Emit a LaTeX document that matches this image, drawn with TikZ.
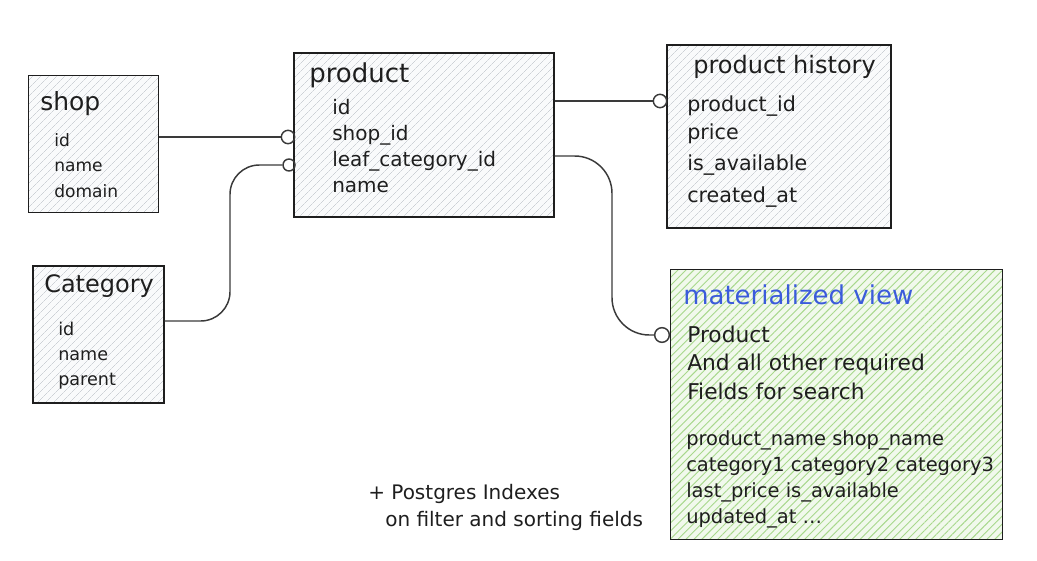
\documentclass[tikz,border=0pt]{standalone}
\usepackage{fontspec}
\setmainfont{DejaVu Sans}
\usetikzlibrary{
  calc,
  positioning,
  patterns.meta
}
\definecolor{ink}{HTML}{1E1E1E}
\definecolor{wire}{HTML}{3A3A3A}
\definecolor{paper}{HTML}{F9FAFB}
\definecolor{hatch}{HTML}{CDD1D6}
\definecolor{mvfill}{HTML}{F1F9EC}
\definecolor{mvhatch}{HTML}{A8D88C}
\definecolor{mvblue}{HTML}{3B5BDB}
\newcommand{\fsize}[1]{\fontsize{#1}{#1}\selectfont}
\tikzset{%
  entity/.style={draw=ink, line width=1.15pt, inner sep=0pt, anchor=north west,
    preaction={fill=paper},
    pattern={Lines[angle=45, distance=4pt, line width=0.45pt]}, pattern color=hatch},
  mview/.style={draw=ink, line width=1.15pt, inner sep=0pt, anchor=north west,
    preaction={fill=mvfill},
    pattern={Lines[angle=45, distance=4.2pt, line width=0.7pt]}, pattern color=mvhatch},
  heading/.style={anchor=base west, inner sep=0pt, text=ink},
  field/.style={anchor=base west, inner sep=0pt, text=ink},
  link/.style={draw=wire, line width=1.1pt},
  ring/.style={circle, draw=wire, line width=1.1pt, minimum size=10pt, inner sep=0pt}
}

\begin{document}
\begin{tikzpicture}[x=0.75pt, y=-0.75pt]
  \useasboundingbox (0,0) rectangle (1037,560);

  % tables
  \node[entity, minimum width=97.5pt, minimum height=102.75pt] (shop) at (28,75) {};
  \node[entity, minimum width=195pt, minimum height=123pt] (product) at (293,52) {};
  \node[entity, minimum width=168pt, minimum height=137.25pt] (history) at (666,44) {};
  \node[entity, minimum width=98.25pt, minimum height=102.75pt] (category) at (32,265) {};
  \node[mview, minimum width=249pt, minimum height=202.5pt] (mv) at (670,269) {};

  % shop
  \node[heading, font=\fsize{18.75}] (shop-title) at (40,110) {shop};
  \foreach \f [count=\i from 0] in {id,name,domain}
    \node[field, font=\fsize{12.8}] (shop-\i) at (54,{146+25.5*\i}) {\f};

  % product
  \node[heading, font=\fsize{19.5}] (product-title) at (309,83) {product};
  \foreach \f [count=\i from 0] in {id,shop\_id,leaf\_category\_id,name}
    \node[field, font=\fsize{15}] (product-\i) at (332,{114+26.3*\i}) {\f};

  % product history
  \node[heading, font=\fsize{18}] (history-title) at (693,74) {product history};
  \foreach \f/\y [count=\i from 0] in {product\_id/111,price/139,is\_available/170,created\_at/202}
    \node[field, font=\fsize{15.5}] (history-\i) at (687,\y) {\f};

  % category
  \node[heading, font=\fsize{18}] (category-title) at (44,292) {Category};
  \foreach \f [count=\i from 0] in {id,name,parent}
    \node[field, font=\fsize{13.2}] (category-\i) at (58,{335+25*\i}) {\f};

  % materialized view
  \node[heading, font=\fsize{19.5}, text=mvblue] (mv-title) at (683,304) {materialized view};
  \foreach \f [count=\i from 0] in {Product,And all other required,Fields for search}
    \node[field, font=\fsize{16.3}] (mv-a\i) at (687,{342+28.5*\i}) {\f};
  \foreach \f [count=\i from 0] in {product\_name shop\_name,category1 category2 category3,last\_price is\_available,updated\_at \ldots}
    \node[field, font=\fsize{14.6}] (mv-b\i) at (686,{445+26*\i}) {\f};

  % note
  \node[field, font=\fsize{15}] (note-a) at (368,499) {+ Postgres Indexes};
  \node[field, font=\fsize{15}] (note-b) at (385,526) {on filter and sorting fields};

  % relations
  \node[ring] (r-shop) at (288,137) {};
  \node[ring, minimum size=9pt] (r-leaf) at (289,165) {};
  \node[ring] (r-history) at (660,101) {};
  \node[ring, minimum size=11pt] (r-mv) at (662,335) {};

  \draw[link] (shop.east |- r-shop) -- (r-shop);
  \draw[link] (product.east |- r-history) -- (r-history);
  \draw[link, rounded corners=22pt] ($(category.north east)+(0,56)$) -| (230,240) |- (r-leaf);
  \draw[link, rounded corners=28pt] ($(product.north east)+(0,104)$) -| (612,250) |- (r-mv);
\end{tikzpicture}
\end{document}
